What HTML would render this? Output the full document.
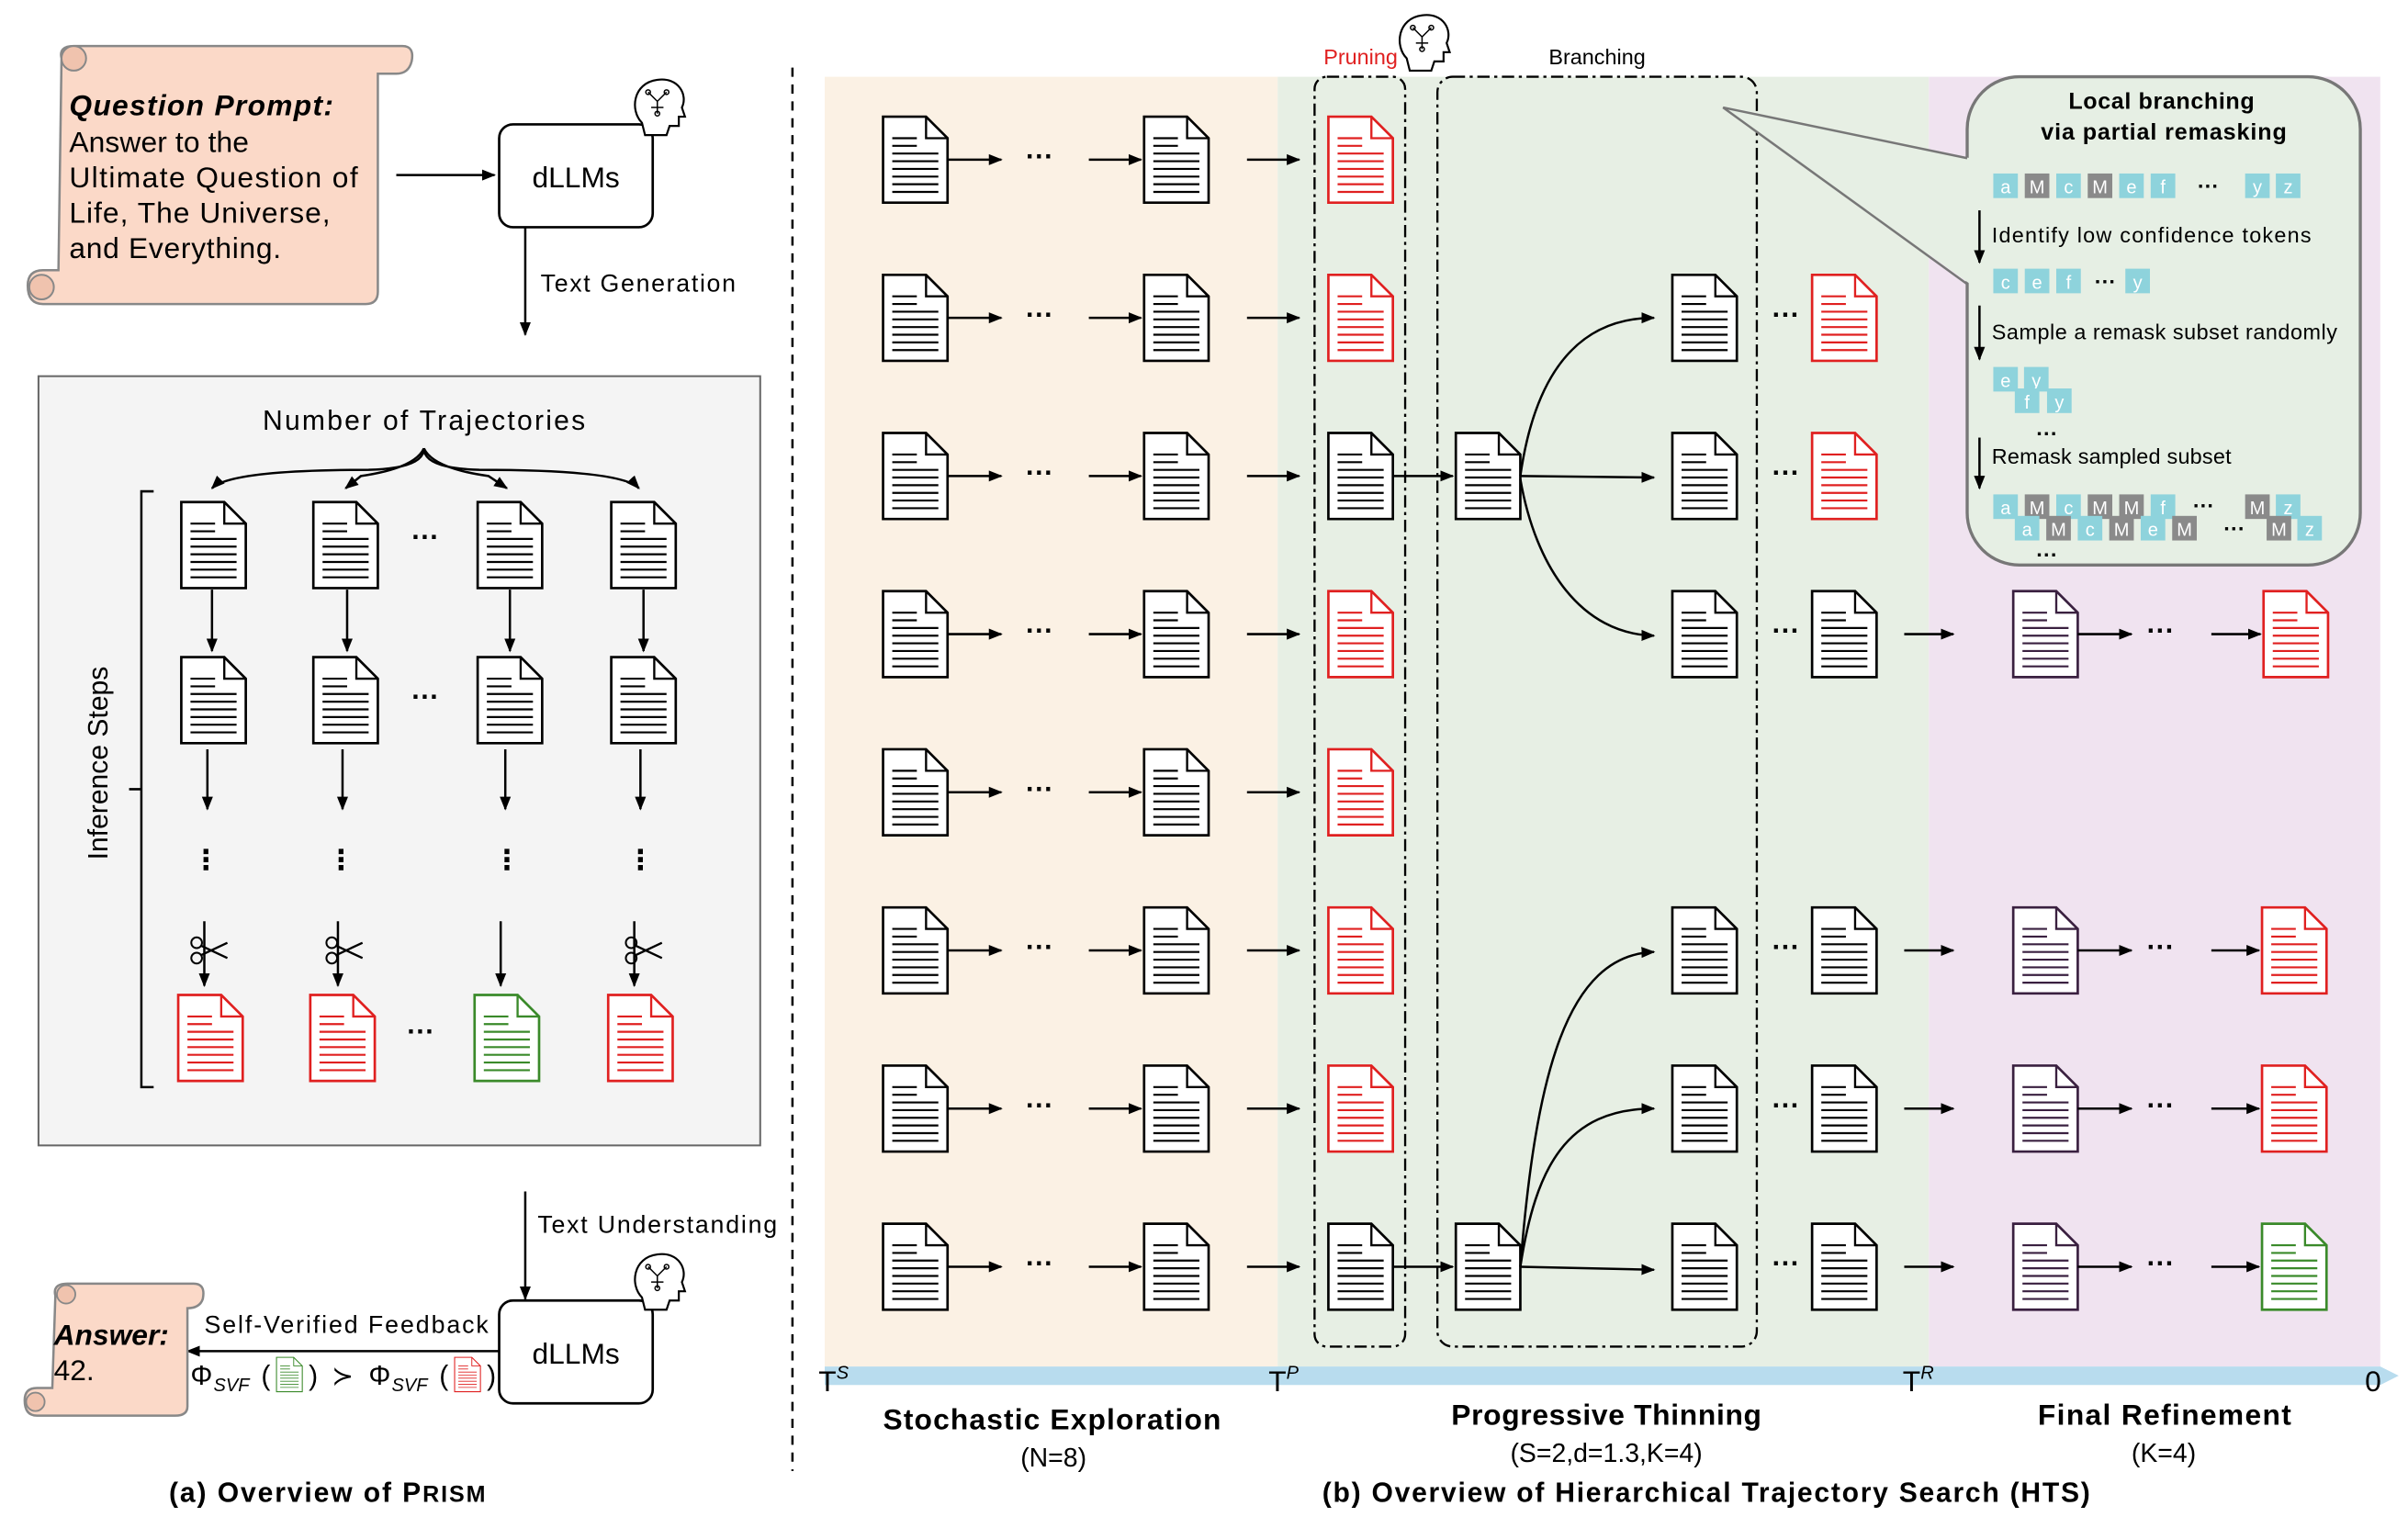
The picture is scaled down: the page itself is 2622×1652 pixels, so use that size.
<!DOCTYPE html>
<html><head><meta charset="utf-8"><style>
html,body{margin:0;padding:0;background:#fff}
svg{display:block}
text{font-family:"Liberation Sans","DejaVu Sans",sans-serif}
</style></head><body>
<svg width="2622" height="1652" viewBox="0 0 1568 988" xmlns="http://www.w3.org/2000/svg">
<defs>
<marker id="ah" viewBox="0 0 10 10" refX="9" refY="5" markerWidth="6" markerHeight="6" orient="auto"><path d="M0,1 L10,5 L0,9 Z" fill="#000"/></marker>
<g id="docK"><path d="M0,0 H28 L42,14 V56 H0 Z" fill="#fff" stroke="#000" stroke-width="1.6"/><path d="M28,0 V14 H42" fill="none" stroke="#000" stroke-width="1.4"/>
<g stroke="#000" stroke-width="1.3"><line x1="6" y1="14" x2="22" y2="14"/><line x1="6" y1="19" x2="22" y2="19"/><line x1="6" y1="24" x2="36" y2="24"/><line x1="6" y1="29" x2="36" y2="29"/><line x1="6" y1="34" x2="36" y2="34"/><line x1="6" y1="39" x2="36" y2="39"/><line x1="6" y1="44" x2="36" y2="44"/><line x1="6" y1="49" x2="36" y2="49"/></g></g>
<g id="docR"><path d="M0,0 H28 L42,14 V56 H0 Z" fill="#fff" stroke="#e02020" stroke-width="1.6"/><path d="M28,0 V14 H42" fill="none" stroke="#e02020" stroke-width="1.4"/>
<g stroke="#e02020" stroke-width="1.3"><line x1="6" y1="14" x2="22" y2="14"/><line x1="6" y1="19" x2="22" y2="19"/><line x1="6" y1="24" x2="36" y2="24"/><line x1="6" y1="29" x2="36" y2="29"/><line x1="6" y1="34" x2="36" y2="34"/><line x1="6" y1="39" x2="36" y2="39"/><line x1="6" y1="44" x2="36" y2="44"/><line x1="6" y1="49" x2="36" y2="49"/></g></g>
<g id="docG"><path d="M0,0 H28 L42,14 V56 H0 Z" fill="#fff" stroke="#3a8a2a" stroke-width="1.6"/><path d="M28,0 V14 H42" fill="none" stroke="#3a8a2a" stroke-width="1.4"/>
<g stroke="#3a8a2a" stroke-width="1.3"><line x1="6" y1="14" x2="22" y2="14"/><line x1="6" y1="19" x2="22" y2="19"/><line x1="6" y1="24" x2="36" y2="24"/><line x1="6" y1="29" x2="36" y2="29"/><line x1="6" y1="34" x2="36" y2="34"/><line x1="6" y1="39" x2="36" y2="39"/><line x1="6" y1="44" x2="36" y2="44"/><line x1="6" y1="49" x2="36" y2="49"/></g></g>
<g id="docP"><path d="M0,0 H28 L42,14 V56 H0 Z" fill="#fff" stroke="#3a2040" stroke-width="1.6"/><path d="M28,0 V14 H42" fill="none" stroke="#3a2040" stroke-width="1.4"/>
<g stroke="#3a2040" stroke-width="1.3"><line x1="6" y1="14" x2="22" y2="14"/><line x1="6" y1="19" x2="22" y2="19"/><line x1="6" y1="24" x2="36" y2="24"/><line x1="6" y1="29" x2="36" y2="29"/><line x1="6" y1="34" x2="36" y2="34"/><line x1="6" y1="39" x2="36" y2="39"/><line x1="6" y1="44" x2="36" y2="44"/><line x1="6" y1="49" x2="36" y2="49"/></g></g>
<g id="head"><path d="M8,30 C0,22 2,4 18,2 C32,0 38,12 34,20 L36,26 L32,26 L32,32 L26,32 L24,38 L10,38 Z" fill="#fff" stroke="#000" stroke-width="1.3"/><g stroke="#000" stroke-width="0.9" fill="none"><path d="M12,10 L18,16 L24,10 M18,16 L18,24 M14,20 L22,20"/><circle cx="12" cy="10" r="1.5"/><circle cx="24" cy="10" r="1.5"/><circle cx="18" cy="24" r="1.5"/></g></g>
<g id="sc"><circle cx="4" cy="4" r="3.5" fill="none" stroke="#000" stroke-width="1.2"/><circle cx="4" cy="14" r="3.5" fill="none" stroke="#000" stroke-width="1.2"/><path d="M7,6 L24,14 M7,12 L24,4" stroke="#000" stroke-width="1.4"/></g>
</defs>

<!-- ===== LEFT PANEL ===== -->
<path d="M40,38 Q38,30 48,30 H262 Q270,30 268,40 Q266,48 258,48 H246 V190 Q246,198 238,198 H28 Q18,198 18,186 Q18,176 28,176 H38 Z" fill="#fbd9c8" stroke="#888" stroke-width="1.5"/>
<circle cx="48" cy="38" r="8" fill="#f0c3ae" stroke="#888" stroke-width="1.2"/>
<circle cx="27" cy="187" r="8" fill="#f0c3ae" stroke="#888" stroke-width="1.2"/>
<text x="45" y="75" font-size="19" font-weight="bold" font-style="italic" textLength="172">Question Prompt:</text>
<text x="45" y="99" font-size="19" textLength="117">Answer to the</text>
<text x="45" y="122" font-size="19" textLength="188">Ultimate Question of</text>
<text x="45" y="145" font-size="19" textLength="170">Life, The Universe,</text>
<text x="45" y="168" font-size="19" textLength="138">and Everything.</text>
<line x1="258" y1="114" x2="322" y2="114" stroke="#000" stroke-width="1.5" marker-end="url(#ah)"/>
<rect x="325" y="81" width="100" height="67" rx="9" fill="#fff" stroke="#000" stroke-width="1.6"/>
<text x="375" y="122" font-size="19" text-anchor="middle">dLLMs</text>
<use href="#head" x="410" y="50"/>
<line x1="342" y1="148" x2="342" y2="218" stroke="#000" stroke-width="1.5" marker-end="url(#ah)"/>
<text x="352" y="190" font-size="16" textLength="127">Text Generation</text>

<rect x="25" y="245" width="470" height="501" fill="#f4f4f4" stroke="#666" stroke-width="1.2"/>
<text x="171" y="280" font-size="18" textLength="210">Number of Trajectories</text>
<g fill="none" stroke="#000" stroke-width="1.5">
<path d="M276,292 Q276,305 240,306 Q150,306 138,318" marker-end="url(#ah)"/>
<path d="M276,292 Q270,305 235,310 L225,318" marker-end="url(#ah)"/>
<path d="M276,292 Q282,305 318,310 L330,318" marker-end="url(#ah)"/>
<path d="M276,292 Q276,305 312,306 Q405,306 416,318" marker-end="url(#ah)"/>
<path d="M100,320 H92 V708 H100 M92,514 H84"/>
</g>
<text transform="translate(70,497) rotate(-90)" font-size="18" text-anchor="middle">Inference Steps</text>
<g>
<use href="#docK" x="118" y="327"/><use href="#docK" x="204" y="327"/><use href="#docK" x="311" y="327"/><use href="#docK" x="398" y="327"/>
<use href="#docK" x="118" y="428"/><use href="#docK" x="204" y="428"/><use href="#docK" x="311" y="428"/><use href="#docK" x="398" y="428"/>
<use href="#docR" x="116" y="648"/><use href="#docR" x="202" y="648"/><use href="#docG" x="309" y="648"/><use href="#docR" x="396" y="648"/>
</g>
<g font-size="18" font-weight="bold" text-anchor="middle"><text x="277" y="356">···</text><text x="277" y="460">···</text><text x="274" y="678">···</text></g>
<g stroke="#000" stroke-width="1.5" marker-end="url(#ah)">
<line x1="138" y1="384" x2="138" y2="424"/><line x1="226" y1="384" x2="226" y2="424"/><line x1="332" y1="384" x2="332" y2="424"/><line x1="419" y1="384" x2="419" y2="424"/>
<line x1="135" y1="488" x2="135" y2="527"/><line x1="223" y1="488" x2="223" y2="527"/><line x1="329" y1="488" x2="329" y2="527"/><line x1="417" y1="488" x2="417" y2="527"/>
<line x1="133" y1="600" x2="133" y2="642"/><line x1="220" y1="600" x2="220" y2="642"/><line x1="326" y1="600" x2="326" y2="642"/><line x1="413" y1="600" x2="413" y2="642"/>
</g>
<g font-size="18" font-weight="bold" text-anchor="middle"><text x="134" y="566">⋮</text><text x="222" y="566">⋮</text><text x="330" y="566">⋮</text><text x="417" y="566">⋮</text></g>
<use href="#sc" x="124" y="610"/><use href="#sc" x="212" y="610"/><use href="#sc" x="407" y="610"/>

<line x1="342" y1="776" x2="342" y2="846" stroke="#000" stroke-width="1.5" marker-end="url(#ah)"/>
<text x="350" y="803" font-size="16" textLength="156">Text Understanding</text>
<rect x="325" y="847" width="100" height="67" rx="9" fill="#fff" stroke="#000" stroke-width="1.6"/>
<text x="375" y="888" font-size="19" text-anchor="middle">dLLMs</text>
<use href="#head" x="410" y="815"/>
<line x1="325" y1="880" x2="122" y2="880" stroke="#000" stroke-width="1.5" marker-end="url(#ah)"/>
<text x="133" y="868" font-size="16" textLength="185">Self-Verified Feedback</text>
<g font-family="Liberation Serif" font-size="18">
<text x="124" y="902">Φ</text><text x="139" y="906" font-size="12" font-style="italic">SVF</text><text x="170" y="902">(</text><text x="201" y="902">)</text>
<text x="216" y="902" font-family="DejaVu Sans" font-size="17">≻</text>
<text x="240" y="902">Φ</text><text x="255" y="906" font-size="12" font-style="italic">SVF</text><text x="286" y="902">(</text><text x="317" y="902">)</text>
</g>
<use href="#docG" transform="translate(180,884) scale(0.4)"/>
<use href="#docR" transform="translate(296,884) scale(0.4)"/>
<path d="M36,844 Q34,836 44,836 H126 Q134,836 132,846 Q130,852 122,852 V916 Q122,922 114,922 H24 Q16,922 16,912 Q16,904 24,904 H34 Z" fill="#fbd9c8" stroke="#888" stroke-width="1.5"/>
<circle cx="43" cy="843" r="6" fill="#f0c3ae" stroke="#888" stroke-width="1.1"/>
<circle cx="23" cy="913" r="6" fill="#f0c3ae" stroke="#888" stroke-width="1.1"/>
<text x="35" y="876" font-size="19" font-weight="bold" font-style="italic">Answer:</text>
<text x="35" y="899" font-size="19">42.</text>
<text x="110" y="978" font-size="18" font-weight="bold" textLength="206">(a) Overview of P<tspan font-size="15">RISM</tspan></text>

<line x1="516" y1="44" x2="516" y2="958" stroke="#000" stroke-width="1.5" stroke-dasharray="6,5"/>

<!-- ===== RIGHT PANEL ===== -->
<rect x="537" y="50" width="295" height="840" fill="#fbf1e4"/>
<rect x="832" y="50" width="424" height="840" fill="#e7efe4"/>
<rect x="1256" y="50" width="294" height="840" fill="#f0e3f0"/>
<path d="M537,890 H1550 L1562,896 L1550,902 H537 Z" fill="#b8dcee"/>
<g font-family="Liberation Serif" font-size="19"><text x="533" y="906">T<tspan font-size="12" dy="-8" font-style="italic">S</tspan></text><text x="826" y="906">T<tspan font-size="12" dy="-8" font-style="italic">P</tspan></text><text x="1239" y="906">T<tspan font-size="12" dy="-8" font-style="italic">R</tspan></text><text x="1540" y="906">0</text></g>

<rect x="856" y="50" width="59" height="827" rx="8" fill="none" stroke="#000" stroke-width="1.4" stroke-dasharray="8,3,2,3"/>
<rect x="936" y="50" width="208" height="827" rx="10" fill="none" stroke="#000" stroke-width="1.4" stroke-dasharray="8,3,2,3"/>
<text x="886" y="42" font-size="14" fill="#e02020" text-anchor="middle">Pruning</text>
<use href="#head" x="908" y="8"/>
<text x="1040" y="42" font-size="14" text-anchor="middle">Branching</text>

<g>
<use href="#docK" x="575" y="76"/><use href="#docK" x="745" y="76"/>
<use href="#docK" x="575" y="179"/><use href="#docK" x="745" y="179"/>
<use href="#docK" x="575" y="282"/><use href="#docK" x="745" y="282"/>
<use href="#docK" x="575" y="385"/><use href="#docK" x="745" y="385"/>
<use href="#docK" x="575" y="488"/><use href="#docK" x="745" y="488"/>
<use href="#docK" x="575" y="591"/><use href="#docK" x="745" y="591"/>
<use href="#docK" x="575" y="694"/><use href="#docK" x="745" y="694"/>
<use href="#docK" x="575" y="797"/><use href="#docK" x="745" y="797"/>
<use href="#docR" x="865" y="76"/><use href="#docR" x="865" y="179"/><use href="#docK" x="865" y="282"/><use href="#docR" x="865" y="385"/>
<use href="#docR" x="865" y="488"/><use href="#docR" x="865" y="591"/><use href="#docR" x="865" y="694"/><use href="#docK" x="865" y="797"/>
<use href="#docK" x="948" y="282"/><use href="#docK" x="948" y="797"/>
<use href="#docK" x="1089" y="179"/><use href="#docK" x="1089" y="282"/><use href="#docK" x="1089" y="385"/>
<use href="#docK" x="1089" y="591"/><use href="#docK" x="1089" y="694"/><use href="#docK" x="1089" y="797"/>
<use href="#docR" x="1180" y="179"/><use href="#docR" x="1180" y="282"/><use href="#docK" x="1180" y="385"/>
<use href="#docK" x="1180" y="591"/><use href="#docK" x="1180" y="694"/><use href="#docK" x="1180" y="797"/>
<use href="#docP" x="1311" y="385"/><use href="#docP" x="1311" y="591"/><use href="#docP" x="1311" y="694"/><use href="#docP" x="1311" y="797"/>
<use href="#docR" x="1474" y="385"/><use href="#docR" x="1473" y="591"/><use href="#docR" x="1473" y="694"/><use href="#docG" x="1473" y="797"/>
</g>
<g stroke="#000" stroke-width="1.5" marker-end="url(#ah)">
<line x1="617" y1="104" x2="652" y2="104"/><line x1="709" y1="104" x2="743" y2="104"/><line x1="812" y1="104" x2="846" y2="104"/>
<line x1="617" y1="207" x2="652" y2="207"/><line x1="709" y1="207" x2="743" y2="207"/><line x1="812" y1="207" x2="846" y2="207"/>
<line x1="617" y1="310" x2="652" y2="310"/><line x1="709" y1="310" x2="743" y2="310"/><line x1="812" y1="310" x2="846" y2="310"/>
<line x1="617" y1="413" x2="652" y2="413"/><line x1="709" y1="413" x2="743" y2="413"/><line x1="812" y1="413" x2="846" y2="413"/>
<line x1="617" y1="516" x2="652" y2="516"/><line x1="709" y1="516" x2="743" y2="516"/><line x1="812" y1="516" x2="846" y2="516"/>
<line x1="617" y1="619" x2="652" y2="619"/><line x1="709" y1="619" x2="743" y2="619"/><line x1="812" y1="619" x2="846" y2="619"/>
<line x1="617" y1="722" x2="652" y2="722"/><line x1="709" y1="722" x2="743" y2="722"/><line x1="812" y1="722" x2="846" y2="722"/>
<line x1="617" y1="825" x2="652" y2="825"/><line x1="709" y1="825" x2="743" y2="825"/><line x1="812" y1="825" x2="846" y2="825"/>
<line x1="907" y1="310" x2="946" y2="310"/><line x1="907" y1="825" x2="946" y2="825"/>
<line x1="1240" y1="413" x2="1272" y2="413"/><line x1="1240" y1="619" x2="1272" y2="619"/><line x1="1240" y1="722" x2="1272" y2="722"/><line x1="1240" y1="825" x2="1272" y2="825"/>
<line x1="1353" y1="413" x2="1388" y2="413"/><line x1="1353" y1="619" x2="1388" y2="619"/><line x1="1353" y1="722" x2="1388" y2="722"/><line x1="1353" y1="825" x2="1388" y2="825"/>
<line x1="1440" y1="413" x2="1472" y2="413"/><line x1="1440" y1="619" x2="1471" y2="619"/><line x1="1440" y1="722" x2="1471" y2="722"/><line x1="1440" y1="825" x2="1471" y2="825"/>
</g>
<g fill="none" stroke="#000" stroke-width="1.5" marker-end="url(#ah)">
<path d="M990,310 C1000,240 1030,207 1077,207"/>
<path d="M990,310 L1077,311"/>
<path d="M990,312 C1000,370 1030,413 1077,414"/>
<path d="M990,825 C1000,700 1020,622 1077,620"/>
<path d="M990,825 C1000,760 1020,722 1077,722"/>
<path d="M990,825 L1077,827"/>
</g>
<g font-size="18" font-weight="bold" text-anchor="middle">
<text x="677" y="108">···</text><text x="677" y="211">···</text><text x="677" y="314">···</text><text x="677" y="417">···</text><text x="677" y="520">···</text><text x="677" y="623">···</text><text x="677" y="726">···</text><text x="677" y="829">···</text>
<text x="1163" y="211">···</text><text x="1163" y="314">···</text><text x="1163" y="417">···</text><text x="1163" y="623">···</text><text x="1163" y="726">···</text><text x="1163" y="829">···</text>
<text x="1407" y="417">···</text><text x="1407" y="623">···</text><text x="1407" y="726">···</text><text x="1407" y="829">···</text>
</g>

<!-- callout -->
<rect x="1281" y="50" width="256" height="318" rx="34" fill="#e6efe4" stroke="#777" stroke-width="2"/>
<path d="M1122,70 L1283,103 L1283,185 Z" fill="#e6efe4"/>
<line x1="1122" y1="70" x2="1281" y2="103" stroke="#777" stroke-width="1.5"/>
<line x1="1122" y1="70" x2="1281" y2="185" stroke="#777" stroke-width="1.5"/>
<text x="1347" y="71" font-size="15" font-weight="bold" textLength="121">Local branching</text>
<text x="1329" y="91" font-size="15" font-weight="bold" textLength="160">via partial remasking</text>
<g font-size="12" fill="#fff" text-anchor="middle">
<g><rect x="1298" y="113" width="16" height="16" fill="#8ed3dc"/><text x="1306" y="126">a</text>
<rect x="1318.5" y="113" width="16" height="16" fill="#8a8a8a"/><text x="1326.5" y="126">M</text>
<rect x="1339" y="113" width="16" height="16" fill="#8ed3dc"/><text x="1347" y="126">c</text>
<rect x="1359.5" y="113" width="16" height="16" fill="#8a8a8a"/><text x="1367.5" y="126">M</text>
<rect x="1380" y="113" width="16" height="16" fill="#8ed3dc"/><text x="1388" y="126">e</text>
<rect x="1400.5" y="113" width="16" height="16" fill="#8ed3dc"/><text x="1408.5" y="126">f</text>
<rect x="1462" y="113" width="16" height="16" fill="#8ed3dc"/><text x="1470" y="126">y</text>
<rect x="1482" y="113" width="16" height="16" fill="#8ed3dc"/><text x="1490" y="126">z</text></g>
<g><rect x="1298" y="175" width="16" height="16" fill="#8ed3dc"/><text x="1306" y="188">c</text>
<rect x="1318.5" y="175" width="16" height="16" fill="#8ed3dc"/><text x="1326.5" y="188">e</text>
<rect x="1339" y="175" width="16" height="16" fill="#8ed3dc"/><text x="1347" y="188">f</text>
<rect x="1384" y="175" width="16" height="16" fill="#8ed3dc"/><text x="1392" y="188">y</text></g>
<g><rect x="1298" y="239" width="16" height="16" fill="#8ed3dc"/><text x="1306" y="252">e</text>
<rect x="1318" y="239" width="16" height="16" fill="#8ed3dc"/><text x="1326" y="252">y</text>
<rect x="1312" y="253" width="16" height="16" fill="#8ed3dc"/><text x="1320" y="266">f</text>
<rect x="1333" y="253" width="16" height="16" fill="#8ed3dc"/><text x="1341" y="266">y</text></g>
<g><rect x="1298" y="322" width="16" height="16" fill="#8ed3dc"/><text x="1306" y="335">a</text>
<rect x="1318.5" y="322" width="16" height="16" fill="#8a8a8a"/><text x="1326.5" y="335">M</text>
<rect x="1339" y="322" width="16" height="16" fill="#8ed3dc"/><text x="1347" y="335">c</text>
<rect x="1359.5" y="322" width="16" height="16" fill="#8a8a8a"/><text x="1367.5" y="335">M</text>
<rect x="1380" y="322" width="16" height="16" fill="#8a8a8a"/><text x="1388" y="335">M</text>
<rect x="1400.5" y="322" width="16" height="16" fill="#8ed3dc"/><text x="1408.5" y="335">f</text>
<rect x="1462" y="322" width="16" height="16" fill="#8a8a8a"/><text x="1470" y="335">M</text>
<rect x="1482" y="322" width="16" height="16" fill="#8ed3dc"/><text x="1490" y="335">z</text></g>
<g><rect x="1312" y="336" width="16" height="16" fill="#8ed3dc"/><text x="1320" y="349">a</text>
<rect x="1332.5" y="336" width="16" height="16" fill="#8a8a8a"/><text x="1340.5" y="349">M</text>
<rect x="1353" y="336" width="16" height="16" fill="#8ed3dc"/><text x="1361" y="349">c</text>
<rect x="1373.5" y="336" width="16" height="16" fill="#8a8a8a"/><text x="1381.5" y="349">M</text>
<rect x="1394" y="336" width="16" height="16" fill="#8ed3dc"/><text x="1402" y="349">e</text>
<rect x="1414.5" y="336" width="16" height="16" fill="#8a8a8a"/><text x="1422.5" y="349">M</text>
<rect x="1476" y="336" width="16" height="16" fill="#8a8a8a"/><text x="1484" y="349">M</text>
<rect x="1496" y="336" width="16" height="16" fill="#8ed3dc"/><text x="1504" y="349">z</text></g>
</g>
<g font-size="14" font-weight="bold" text-anchor="middle">
<text x="1438" y="126">···</text><text x="1371" y="188">···</text><text x="1333" y="287">···</text><text x="1435" y="334">···</text><text x="1455" y="349">···</text><text x="1333" y="366">···</text>
</g>
<g font-size="14"><text x="1297" y="158" textLength="208">Identify low confidence tokens</text><text x="1297" y="221" textLength="225">Sample a remask subset randomly</text><text x="1297" y="302" textLength="156">Remask sampled subset</text></g>
<g stroke="#000" stroke-width="1.5" marker-end="url(#ah)"><line x1="1289" y1="137" x2="1289" y2="171"/><line x1="1289" y1="199" x2="1289" y2="234"/><line x1="1289" y1="285" x2="1289" y2="318"/></g>

<text x="575" y="931" font-size="19" font-weight="bold" textLength="220">Stochastic Exploration</text>
<text x="686" y="955" font-size="17" text-anchor="middle">(N=8)</text>
<text x="945" y="928" font-size="19" font-weight="bold" textLength="202">Progressive Thinning</text>
<text x="1046" y="952" font-size="17" text-anchor="middle">(S=2,d=1.3,K=4)</text>
<text x="1327" y="928" font-size="19" font-weight="bold" textLength="165">Final Refinement</text>
<text x="1409" y="952" font-size="17" text-anchor="middle">(K=4)</text>
<text x="861" y="978" font-size="18" font-weight="bold" textLength="500">(b) Overview of Hierarchical Trajectory Search (HTS)</text>
</svg>
</body></html>
